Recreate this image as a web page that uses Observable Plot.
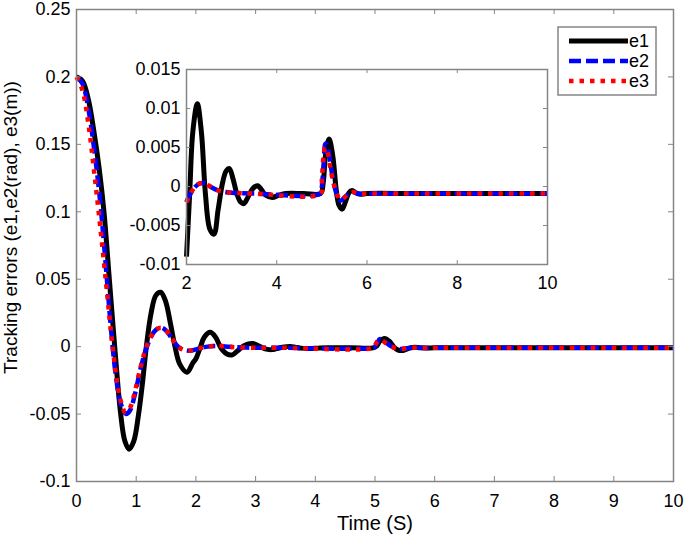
<!DOCTYPE html>
<html><head><meta charset="utf-8">
<script src="https://cdn.jsdelivr.net/npm/d3@7"></script>
<script src="https://cdn.jsdelivr.net/npm/@observablehq/plot@0.6"></script>
<style>
html,body{margin:0;padding:0;background:#fff;}
#chart{position:relative;width:685px;height:537px;font-family:"Liberation Sans",Arial,sans-serif;}
#chart svg{position:absolute;left:0;top:0;}
</style></head><body><div id="chart"></div>
<script>
// ---- data ----
const t1 = [0,0.1,0.2,0.3,0.38,0.46,0.55,0.64,0.74,0.81,0.88,0.96,1.04,1.11,1.17,1.25,1.33,1.41,1.49,1.57,1.65,1.73,1.85,1.95,2.0,2.07,2.14,2.24,2.33,2.42,2.52,2.61,2.7,2.8,2.88,2.95,3.03,3.12,3.2,3.27,3.35,3.45,3.52,3.58,3.66,3.75,3.9,4.05,4.2,4.6,4.97,5.03,5.08,5.16,5.24,5.32,5.38,5.45,5.52,5.6,5.67,5.75,5.85,6,7,8,9,10];
const e1 = [0.2,0.197,0.183,0.157,0.132,0.1,0.05,0,-0.05,-0.07,-0.076,-0.07,-0.05,-0.025,0,0.025,0.038,0.0403,0.034,0.018,0,-0.013,-0.019,-0.012,-0.009,-0.001,0.007,0.0106,0.007,-0.001,-0.0055,-0.0061,-0.003,0.0005,0.002,0.0023,0.001,-0.001,-0.002,-0.0022,-0.0015,-0.0004,0,0.0001,-0.0004,-0.0011,-0.0014,-0.0011,-0.0009,-0.0009,-0.0009,0.0005,0.004,0.0061,0.004,-0.0005,-0.0024,-0.0029,-0.002,-0.0008,-0.0005,-0.0008,-0.001,-0.0009,-0.0009,-0.0009,-0.0009,-0.0009];

const t2 = [0,0.1,0.2,0.3,0.4,0.5,0.58,0.66,0.74,0.83,0.9,0.98,1.08,1.18,1.3,1.41,1.5,1.6,1.7,1.8,1.9,2.0,2.1,2.2,2.3,2.42,2.55,2.7,2.85,3.0,3.5,4.97,5.0,5.04,5.08,5.13,5.2,5.28,5.35,5.42,5.5,5.6,5.7,5.8,6,7,8,9,10];
const e2 = [0.2,0.195,0.176,0.145,0.106,0.055,0.012,-0.022,-0.042,-0.05,-0.047,-0.035,-0.015,0,0.011,0.0143,0.012,0.006,0,-0.0025,-0.003,-0.002,-0.0008,0,0.0004,0.0004,-0.0001,-0.0005,-0.0007,-0.0008,-0.0009,-0.0009,0,0.003,0.0055,0.005,0.0025,0,-0.0013,-0.0018,-0.0014,-0.0009,-0.0007,-0.0009,-0.0009,-0.0009,-0.0009,-0.0009,-0.0009];

const t3 = [0,0.1,0.2,0.3,0.4,0.5,0.58,0.66,0.74,0.82,0.9,0.98,1.08,1.18,1.3,1.41,1.5,1.6,1.7,1.8,1.9,2.0,2.1,2.2,2.3,2.42,2.55,2.7,2.85,3.0,3.5,4.97,5.0,5.04,5.07,5.12,5.2,5.28,5.35,5.42,5.5,5.6,5.7,5.8,6,7,8,9,10];
const e3 = [0.2,0.19,0.165,0.128,0.088,0.045,0.01,-0.02,-0.04,-0.0487,-0.045,-0.033,-0.014,0.001,0.011,0.014,0.012,0.006,0,-0.0025,-0.003,-0.002,-0.0008,0,0.0004,0.0004,-0.0001,-0.0005,-0.0007,-0.0008,-0.0009,-0.0009,0.001,0.004,0.005,0.0045,0.002,0,-0.0012,-0.0017,-0.0014,-0.0009,-0.0007,-0.0009,-0.0009,-0.0009,-0.0009,-0.0009,-0.0009];

const mainXTicks = [0,1,2,3,4,5,6,7,8,9,10];
const mainYTicks = [-0.1,-0.05,0,0.05,0.1,0.15,0.2,0.25];
const insetXTicks = [2,4,6,8,10];
const insetYTicks = [-0.01,-0.005,0,0.005,0.01,0.015];
const seriesNames = ["e1","e2","e3"];
const xLabel = "Time (S)";
const yLabel = "Tracking errors (e1,e2(rad), e3(m))";

// ---- build ----
const toRows = (t, v) => t.map((x, i) => ({t: x, v: v[i]}));
const d1 = toRows(t1, e1), d2 = toRows(t2, e2), d3r = toRows(t3, e3);
const gray = "#858585";
const fmt = d => String(+d.toFixed(4));
const font = "'Liberation Sans', Arial, sans-serif";
const TICKFS = 18;

const lineStyles = [
  {stroke: "black", strokeWidth: 5, strokeDasharray: null},
  {stroke: "#0000ff", strokeWidth: 4.5, strokeDasharray: "12,5"},
  {stroke: "#ff0000", strokeWidth: 4.5, strokeDasharray: "4.5,6"}
];

function lineMarks(a, b, c) {
  return [a, b, c].map((d, i) => Plot.line(d, {
    x: "t", y: "v", curve: "catmull-rom", strokeLinecap: "butt",
    stroke: lineStyles[i].stroke, strokeWidth: lineStyles[i].strokeWidth,
    ...(lineStyles[i].strokeDasharray ? {strokeDasharray: lineStyles[i].strokeDasharray} : {})
  }));
}

function inwardTicks(xt, yt, ph, pw, len) {
  return [
    Plot.tickX(xt, {x: d => d, insetTop: ph - len, stroke: gray}),
    Plot.tickX(xt, {x: d => d, insetBottom: ph - len, stroke: gray}),
    Plot.tickY(yt, {y: d => d, insetRight: pw - len, stroke: gray}),
    Plot.tickY(yt, {y: d => d, insetLeft: pw - len, stroke: gray})
  ];
}

const W = 685, H = 537, mt = 9, mr = 12, mb = 56, ml = 76;
const ph = H - mt - mb, pw = W - ml - mr;

const main = Plot.plot({
  width: W, height: H, marginTop: mt, marginRight: mr, marginBottom: mb, marginLeft: ml,
  style: {fontFamily: font, fontSize: TICKFS + "px", color: "black", background: "transparent", overflow: "visible"},
  x: {domain: [0, 10]},
  y: {domain: [-0.1, 0.25]},
  marks: [
    ...lineMarks(d1, d2, d3r),
    ...inwardTicks(mainXTicks, mainYTicks, ph, pw, 5),
    Plot.frame({stroke: gray, strokeWidth: 1.5}),
    Plot.axisX({ticks: mainXTicks, tickSize: 0, tickPadding: 13, tickFormat: fmt, label: null, fontSize: TICKFS, fill: "black"}),
    Plot.axisY({ticks: mainYTicks, tickSize: 0, tickPadding: 6, tickFormat: fmt, label: null, fontSize: TICKFS, fill: "black"}),
    Plot.text([xLabel], {text: d => d, frameAnchor: "bottom", dy: 42, lineAnchor: "middle", textAnchor: "middle", fontSize: 20, fill: "black"}),
    Plot.text([yLabel], {text: d => d, frameAnchor: "left", rotate: -90, dx: -66, dy: -18, lineAnchor: "middle", textAnchor: "middle", fontSize: 19, fill: "black"})
  ]
});

const IW = 420, IH = 232, imt = 9, imr = 13, imb = 28, iml = 46;
const iph = IH - imt - imb, ipw = IW - iml - imr;
const f2 = d => d.t >= 2;
const inset = Plot.plot({
  width: IW, height: IH, marginTop: imt, marginRight: imr, marginBottom: imb, marginLeft: iml,
  style: {fontFamily: font, fontSize: TICKFS + "px", color: "black", background: "transparent", overflow: "visible"},
  x: {domain: [2, 10]},
  y: {domain: [-0.01, 0.015]},
  marks: [
    Plot.frame({fill: "white"}),
    ...lineMarks(d1.filter(f2), d2.filter(f2), d3r.filter(f2)),
    ...inwardTicks(insetXTicks, insetYTicks, iph, ipw, 4),
    Plot.frame({stroke: gray, strokeWidth: 1.5}),
    Plot.axisX({ticks: insetXTicks, tickSize: 0, tickPadding: 12, tickFormat: fmt, label: null, fontSize: TICKFS, fill: "black"}),
    Plot.axisY({ticks: insetYTicks, tickSize: 0, tickPadding: 6, tickFormat: fmt, label: null, fontSize: TICKFS, fill: "black"})
  ]
});
inset.style.left = "140px";
inset.style.top = "60px";

const chart = document.getElementById("chart");
chart.appendChild(main);
chart.appendChild(inset);

// legend box (inside the plot, top right)
const NS = "http://www.w3.org/2000/svg";
function el(name, attrs, parent) {
  const e = document.createElementNS(NS, name);
  for (const k in attrs) if (attrs[k] != null) e.setAttribute(k, attrs[k]);
  parent.appendChild(e);
  return e;
}
const leg = document.createElementNS(NS, "svg");
leg.setAttribute("width", 110);
leg.setAttribute("height", 80);
leg.style.left = "552px";
leg.style.top = "22px";
el("rect", {x: 6, y: 5, width: 98, height: 68, fill: "white", stroke: gray, "stroke-width": 1.5}, leg);
seriesNames.forEach((name, i) => {
  const y = 19 + i * 20;
  const s = lineStyles[i];
  el("line", {x1: 17, x2: 76, y1: y, y2: y, stroke: s.stroke, "stroke-width": s.strokeWidth, "stroke-dasharray": s.strokeDasharray}, leg);
  const t = el("text", {x: 77, y: y, dy: "0.35em", "font-family": font, "font-size": 18, fill: "black"}, leg);
  t.textContent = name;
});
chart.appendChild(leg);
</script></body></html>
